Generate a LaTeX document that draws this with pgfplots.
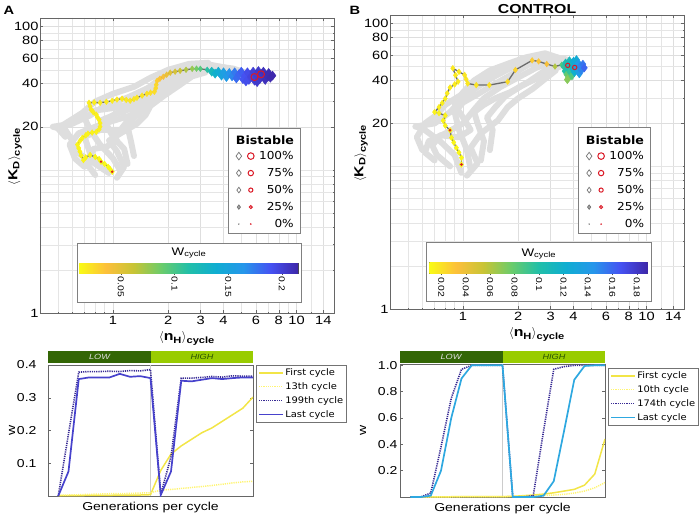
\documentclass[border=0pt]{standalone}
\usepackage{pgfplots}
\pgfplotsset{compat=1.18}
\usepackage{pgfplotstable}
\usepackage{fontspec}
\setmainfont{Liberation Sans}[FakeStretch=1.22]
\newfontfamily\dejavu{DejaVu Sans}[FakeStretch=1.1]

\definecolor{gbg}{rgb}{0.87,0.87,0.87}
\definecolor{pathgray}{rgb}{0.42,0.42,0.42}
\definecolor{bred}{rgb}{0.86,0.10,0.15}
\definecolor{lastA}{rgb}{0.28,0.26,0.80}
\definecolor{indigo}{rgb}{0.22,0.17,0.58}
\definecolor{yel}{rgb}{0.95,0.90,0.28}
\definecolor{paleyel}{rgb}{1.0,0.96,0.45}
\definecolor{lastB}{rgb}{0.18,0.66,0.88}
\definecolor{lowgreen}{rgb}{0.20,0.40,0.02}
\definecolor{highgreen}{rgb}{0.60,0.80,0.00}
\definecolor{cm0}{rgb}{0.977,0.984,0.081}
\definecolor{cm1}{rgb}{0.99,0.75,0.23}
\definecolor{cm2}{rgb}{0.78,0.77,0.21}
\definecolor{cm3}{rgb}{0.42,0.80,0.42}
\definecolor{cm4}{rgb}{0.13,0.75,0.66}
\definecolor{cm5}{rgb}{0.06,0.68,0.82}
\definecolor{cm6}{rgb}{0.15,0.59,0.92}
\definecolor{cm7}{rgb}{0.27,0.32,0.95}
\definecolor{cm8}{rgb}{0.24,0.15,0.66}
\pgfdeclarehorizontalshading{rparulashade}{100bp}{color(0bp)=(cm0); color(25bp)=(cm0); color(31.25bp)=(cm1); color(37.5bp)=(cm2); color(43.75bp)=(cm3); color(50bp)=(cm4); color(56.25bp)=(cm5); color(62.5bp)=(cm6); color(68.75bp)=(cm7); color(75bp)=(cm8); color(100bp)=(cm8)}

\pgfplotstableread{
x y w
0.99 9.7 0.012
0.96 10.2 0.012
0.94 10.5 0.012
0.90 11.0 0.012
0.86 11.4 0.013
0.84 11.9 0.013
0.80 12.3 0.013
0.75 12.7 0.013
0.71 12.2 0.014
0.69 11.7 0.014
0.67 12.6 0.014
0.66 13.4 0.014
0.65 14.2 0.014
0.64 15.0 0.014
0.66 15.9 0.015
0.68 16.7 0.015
0.71 17.4 0.015
0.73 17.9 0.015
0.77 18.2 0.015
0.81 18.4 0.015
0.84 19.2 0.016
0.85 20.0 0.016
0.85 21.2 0.016
0.84 22.4 0.016
0.82 23.4 0.016
0.81 24.3 0.016
0.78 25.3 0.017
0.76 26.3 0.017
0.75 27.8 0.017
0.74 29.4 0.017
0.79 29.6 0.017
0.85 29.4 0.018
0.92 29.9 0.018
0.99 30.4 0.018
1.05 31.0 0.019
1.12 31.4 0.019
1.18 30.8 0.019
1.24 30.4 0.020
1.30 31.2 0.020
1.35 31.9 0.020
1.44 33.0 0.021
1.53 34.0 0.022
1.60 34.6 0.023
1.68 35.1 0.024
1.71 37.2 0.025
1.72 39.3 0.026
1.74 41.9 0.030
1.80 43.3 0.035
1.88 44.7 0.040
1.96 46.2 0.045
2.05 47.7 0.050
2.18 48.5 0.055
2.32 49.2 0.060
2.50 50.0 0.068
2.70 50.8 0.075
2.85 50.9 0.085
2.99 50.8 0.095
3.26 50.0 0.110
3.52 48.4 0.130
3.94 46.9 0.150
4.36 46.1 0.165
4.82 45.4 0.180
5.33 44.7 0.190
5.89 44.7 0.200
6.52 44.7 0.205
7.03 44.0 0.210
}\pathA

\pgfplotstableread{
x y w
3.45 48.5 0.125
3.6 47.0 0.135
3.75 48.5 0.140
3.9 45.5 0.150
4.0 48.0 0.155
4.15 44.5 0.160
4.3 47.5 0.165
4.45 45.0 0.170
4.6 48.0 0.175
4.7 43.5 0.180
4.85 46.5 0.182
5.0 48.5 0.185
5.1 43.0 0.188
5.25 45.5 0.190
5.4 48.0 0.193
5.5 42.5 0.195
5.65 45.0 0.197
5.8 48.5 0.200
5.9 42.0 0.200
6.05 46.0 0.202
6.2 49.0 0.204
6.3 43.0 0.205
6.45 46.5 0.206
6.6 48.5 0.208
6.75 42.5 0.209
6.9 45.5 0.211
7.05 47.5 0.212
7.2 44.0 0.213
7.4 45.5 0.214
6.1 41.0 0.203
5.3 41.5 0.192
}\clusterA

\pgfplotstableread{
x y w
0.98 10.3 0.011
0.98 11.5 0.011
0.95 12.5 0.012
0.92 13.5 0.012
0.89 14.7 0.012
0.865 15.9 0.012
0.85 17.9 0.013
0.80 19.3 0.013
0.78 20.9 0.013
0.80 22.7 0.014
0.74 23.6 0.014
0.70 24.0 0.014
0.74 26.0 0.015
0.77 27.8 0.015
0.80 29.8 0.015
0.82 32.5 0.016
0.85 35.7 0.016
0.90 37.5 0.016
0.94 39.2 0.016
0.91 43.5 0.017
0.88 48.7 0.017
0.95 46.0 0.017
1.02 43.7 0.018
1.04 40.8 0.018
1.06 38.1 0.018
1.18 37.1 0.019
1.39 37.1 0.020
1.75 39.2 0.022
1.93 47.4 0.025
2.38 55.3 0.028
2.58 54.4 0.030
2.86 52.1 0.035
3.17 50.1 0.060
3.45 51.5 0.085
}\pathB

\pgfplotstableread{
x y w
3.55 50.0 0.095
3.60 46.5 0.100
3.62 53.0 0.105
3.68 44.0 0.080
3.72 49.0 0.105
3.75 41.5 0.075
3.80 55.0 0.110
3.82 46.0 0.095
3.88 51.5 0.115
3.92 43.0 0.085
3.97 48.0 0.120
4.00 54.5 0.125
4.05 45.5 0.120
4.10 51.0 0.130
4.15 56.0 0.125
4.18 47.5 0.135
4.25 53.0 0.140
4.30 44.5 0.140
4.35 50.0 0.150
4.42 47.0 0.150
4.50 52.0 0.155
4.58 49.0 0.160
3.70 40.5 0.070
}\clusterB

\pgfplotsset{
 /pgf/number format/assume math mode=true,
 colormap={rparula}{rgb=(0.977,0.984,0.081) rgb=(0.99,0.75,0.23) rgb=(0.78,0.77,0.21) rgb=(0.42,0.80,0.42) rgb=(0.13,0.75,0.66) rgb=(0.06,0.68,0.82) rgb=(0.15,0.59,0.92) rgb=(0.27,0.32,0.95) rgb=(0.24,0.15,0.66)},
 gray traj/.style={gbg, line width=6pt, line join=round, line cap=round, forget plot},
 main traj/.style={pathgray, line width=1.3pt, forget plot, mark=diamond*, mark size=2.8pt,
   scatter, point meta=explicit, scatter/use mapped color={draw=mapped color, fill=mapped color},
   mark options={line width=0.5pt, solid}},
 cluster traj/.style={only marks, forget plot, mark=diamond*, mark size=4.5pt,
   scatter, point meta=explicit, scatter/use mapped color={draw=mapped color, fill=mapped color},
   mark options={line width=0.5pt}},
 topdeco/.style={
  scale only axis, width=294pt,
  grid=both,
  major grid style={draw=black!13, line width=0.4pt},
  minor grid style={draw=black!10, line width=0.3pt},
  axis line style={draw=black!60, line width=0.6pt},
  tick style={draw=black!60, line width=0.4pt},
  major tick length=3pt, minor tick length=1.5pt,
  tick label style={font=\fontsize{12}{12}\selectfont},
  yticklabel style={xshift=2pt},
  xlabel={$\langle$n\textsubscript{H}$\rangle$\textsubscript{cycle}},
  ylabel={$\langle$K\textsubscript{D}$\rangle$\textsubscript{cycle}},
  label style={font=\bfseries\fontsize{13}{13}\selectfont},
  colormap name=rparula,
 },
 cbarstyle/.style={
  scale only axis, ymin=0, ymax=1,
  ytick=\empty, xtick pos=left, tick align=outside,
  major tick length=2pt, tick style={draw=black!70, line width=0.4pt},
  axis line style={draw=black!70, line width=0.5pt},
  xticklabel style={rotate=-90, anchor=west, font=\fontsize{8.5}{8.5}\selectfont, inner sep=1.5pt},
 },
 botpanel/.style={
  scale only axis, width=205pt,
  xmin=0, xmax=40, ymin=0,
  xtick=\empty,
  axis line style={draw=black!60, line width=0.6pt},
  tick style={draw=black!60, line width=0.4pt}, major tick length=3pt,
  tick label style={font=\fontsize{11.5}{12}\selectfont},
  yticklabel style={/pgf/number format/fixed, /pgf/number format/fixed zerofill, /pgf/number format/precision=1},
  xlabel={Generations per cycle},
  label style={font=\fontsize{11.5}{12}\selectfont},
  xlabel style={yshift=-3pt},
  legend style={anchor=north west, draw=black!55, fill=white,
    font=\dejavu\fontsize{9}{9}\selectfont, row sep=2.5pt, inner sep=2pt, nodes={inner sep=1.5pt}},
  legend cell align=left,
  legend image code/.code={\draw[#1] (0pt,0pt) -- (24pt,0pt);},
 },
}

\newcommand{\symdia}[3]{\tikz[baseline=-0.5ex]\draw[black!55, line width=0.7pt, fill=#3] (0pt,#1pt)--(#2pt,0pt)--(0pt,-#1pt)--(-#2pt,0pt)--cycle;}
\newcommand{\symring}[1]{\tikz[baseline=-0.5ex]\draw[bred, line width=1pt] (0pt,0pt) circle (#1pt);}
\newcommand{\bistabletab}{%
  \begin{tabular}{@{}c@{\hspace{5pt}}c@{\hspace{4.5pt}}r@{}}
  \symdia{3.8}{2.8}{white} & \symring{3.3} & 100\%\\
  \symdia{3.3}{2.4}{white} & \symring{2.7} & 75\%\\
  \symdia{2.8}{2.0}{white} & \symring{2.1} & 50\%\\
  \symdia{2.2}{1.6}{black!35} & \symring{1.5} & 25\%\\
  \tikz[baseline=-0.5ex]\fill[black!55] (0pt,0pt) circle (0.8pt); & \tikz[baseline=-0.5ex]\fill[bred] (0pt,0pt) circle (0.9pt); & 0\%
  \end{tabular}}

\begin{document}
\begin{tikzpicture}
\useasboundingbox (0,0) rectangle (700pt,517pt);

% ---------------- Panel A top ----------------
\begin{axis}[topdeco, xmode=log, ymode=log,
  xmin=0.4, xmax=16, ymin=1, ymax=115,
  xtick={1,2,3,4,6,8,10,14}, xticklabels={1,2,3,4,6,8,10,14},
  ytick={1,20,40,60,80,100}, yticklabels={1,20,40,60,80,100},
  minor xtick={0.4,0.5,0.6,0.7,0.8,0.9,5,7,9,12,16},
  minor ytick={2,3,4,5,6,7,8,9,10,30,50,70,90},
  ylabel style={at={([xshift=-25pt]rel axis cs:0,0.53)}, anchor=center},
  at={(40pt,204pt)}, anchor=south west, height=295pt,
  point meta min=0.011, point meta max=0.215]
\addplot[gray traj] coordinates {(0.95,9.5) (0.8,11) (0.65,13) (0.6,16) (0.55,19) (0.47,20) (0.6,21) (0.75,24) (0.9,28) (1.2,32) (1.6,38) (2,45) (2.6,52) (3.2,55) (4,52) (4.8,49)};
\addplot[gray traj] coordinates {(1.1,9.8) (1.0,12) (0.85,15) (0.75,19) (0.7,23) (0.8,26) (1.0,27) (1.4,30) (1.7,36) (2.1,44) (2.5,50) (3,53) (3.8,50) (4.5,48)};
\addplot[gray traj] coordinates {(1.2,11) (1.15,14) (1.0,17) (0.9,22) (1.05,25) (1.3,27) (1.5,33) (1.8,40) (2.3,48) (2.8,52) (3.5,53) (4.2,50)};
\addplot[gray traj] coordinates {(0.7,10.5) (0.62,12) (0.58,15) (0.65,18) (0.8,20) (1.0,22) (1.25,24) (1.45,29) (1.65,34) (1.9,39) (2.2,44) (2.7,49) (3.4,51)};
\addplot[gray traj] coordinates {(1.3,12.5) (1.25,16) (1.2,20) (1.3,23) (1.45,26) (1.6,31) (1.8,35) (2.1,40) (2.5,46) (3.1,50) (3.9,51) (5,48)};
\addplot[gray traj] coordinates {(0.9,10) (0.75,13) (0.7,17) (0.85,19) (1.1,19) (1.2,22) (1.1,26) (1.2,29) (1.55,32) (2.0,37) (2.4,43) (2.9,49) (3.6,53) (4.5,51) (5.5,47)};
\addplot[gray traj] coordinates {(0.55,17) (0.5,19.5) (0.58,22) (0.68,25) (0.8,30) (1.0,34) (1.3,38) (1.6,44) (2.0,50) (2.6,55) (3.3,56)};
\addplot[gray traj] coordinates {(1.05,8.8) (1.15,10.5) (1.05,13.5) (0.95,16) (1.1,18) (1.35,21) (1.5,24) (1.6,28) (1.9,33) (2.3,39) (2.7,45) (3.2,48)};
\addplot[gray traj] coordinates {(0.8,9.2) (0.72,11) (0.78,14) (0.92,14.5) (1.05,16) (0.95,19) (0.85,22) (1.0,24) (1.2,26.5) (1.35,30) (1.5,36) (1.75,42) (2.1,47) (2.6,51) (3.0,55)};
\addplot[main traj] table[x=x, y=y, meta=w] {\pathA};
\addplot[cluster traj] table[x=x, y=y, meta=w] {\clusterA};
\addplot[only marks, mark=*, mark size=1pt, bred, forget plot] coordinates {(0.99,9.7) (0.86,11.4)};
\addplot[only marks, mark=o, mark size=3.5pt, bred, line width=1pt, forget plot] coordinates {(5.9,44.5) (6.4,46.5)};
\end{axis}

% boxes of panel A
\draw[black!50, fill=white, line width=0.6pt] (77pt,215pt) rectangle (301pt,274pt);
\node[font=\fontsize{11}{11}\selectfont] at (189pt,264pt) {W\textsubscript{cycle}};
\draw[black!50, fill=white, line width=0.6pt] (228pt,284pt) rectangle (300pt,389pt);
\node[font=\dejavu\bfseries\fontsize{11.5}{12}\selectfont] at (265pt,377pt) {Bistable};
\node[anchor=north west, inner sep=0pt, font=\dejavu\fontsize{11}{17}\selectfont] at (235.5pt,370pt) {\bistabletab};

% colour bar A
\begin{axis}[cbarstyle, xmin=0.011, xmax=0.215, at={(79pt,244pt)}, anchor=south west, width=219pt, height=10pt,
  xtick={0.05,0.1,0.15,0.2}, xticklabels={0.05,0.1,0.15,0.2}]
\fill[shading=rparulashade] (rel axis cs:0,0) rectangle (rel axis cs:1,1);
\end{axis}

% ---------------- Panel B top ----------------
\begin{axis}[topdeco, xmode=log, ymode=log,
  xmin=0.4, xmax=16, ymin=1, ymax=115,
  xtick={1,2,3,4,6,8,10,14}, xticklabels={1,2,3,4,6,8,10,14},
  ytick={1,20,40,60,80,100}, yticklabels={1,20,40,60,80,100},
  minor xtick={0.4,0.5,0.6,0.7,0.8,0.9,5,7,9,12,16},
  minor ytick={2,3,4,5,6,7,8,9,10,30,50,70,90},
  ylabel style={at={([xshift=-29pt]rel axis cs:0,0.53)}, anchor=center},
  at={(390pt,208pt)}, anchor=south west, height=294pt,
  point meta min=0.0102, point meta max=0.189]
\addplot[gray traj] coordinates {(0.98,9) (0.9,12) (0.75,15) (0.6,18.5) (0.55,19) (0.7,20) (0.85,24) (1.0,30) (1.2,36) (1.5,43) (2.0,52) (2.6,60) (3.2,58) (3.8,53)};
\addplot[gray traj] coordinates {(1.1,9.5) (1.05,13) (0.95,18) (0.9,24) (1.0,28) (1.2,32) (1.5,38) (1.9,45) (2.3,52) (2.9,56) (3.6,54)};
\addplot[gray traj] coordinates {(0.7,11) (0.62,12.5) (0.65,15) (0.8,17) (1.0,20) (1.15,25) (1.3,30) (1.6,36) (2.0,42) (2.5,49) (3.1,54) (3.9,52)};
\addplot[gray traj] coordinates {(1.25,11) (1.3,15) (1.2,20) (1.15,24) (1.3,27) (1.5,30) (1.8,33) (2.2,38) (2.6,44) (3.0,50) (3.6,52)};
\addplot[gray traj] coordinates {(0.85,10) (0.72,12) (0.68,14) (0.75,16.5) (0.95,16) (1.1,18) (1.0,22) (0.9,27) (1.0,33) (1.15,40) (1.4,47) (1.8,53) (2.2,58) (2.8,62) (3.4,57) (4.2,52)};
\addplot[gray traj] coordinates {(1.4,13) (1.45,18) (1.35,22) (1.5,26) (1.7,31) (2.1,37) (2.5,41) (2.9,47) (3.4,50)};
\addplot[gray traj] coordinates {(0.6,13) (0.56,16) (0.62,20) (0.72,23) (0.8,27) (0.95,31) (1.1,35) (1.3,41) (1.7,48) (2.2,55) (3.0,59) (3.7,56)};
\addplot[gray traj] coordinates {(1.05,8.6) (1.2,10.5) (1.1,13.5) (1.25,17) (1.55,21) (1.75,26) (2.0,30) (2.4,35) (2.8,41) (3.2,47)};
\addplot[main traj] table[x=x, y=y, meta=w] {\pathB};
\addplot[cluster traj, mark size=4pt] table[x=x, y=y, meta=w] {\clusterB};
\addplot[only marks, mark=*, mark size=1.1pt, bred, forget plot] coordinates {(0.98,10.3) (0.85,17.9)};
\addplot[only marks, mark=o, mark size=2.2pt, bred, line width=1pt, forget plot] coordinates {(3.72,51) (4.06,49.3)};
\end{axis}

% boxes of panel B
\draw[black!50, fill=white, line width=0.6pt] (426.7pt,215.3pt) rectangle (651pt,274.3pt);
\node[font=\fontsize{11}{11}\selectfont] at (538.8pt,263pt) {W\textsubscript{cycle}};
\draw[black!50, fill=white, line width=0.6pt] (578.3pt,283.7pt) rectangle (650pt,389.3pt);
\node[font=\dejavu\bfseries\fontsize{11.5}{12}\selectfont] at (615pt,377pt) {Bistable};
\node[anchor=north west, inner sep=0pt, font=\dejavu\fontsize{11}{17}\selectfont] at (585.8pt,370pt) {\bistabletab};

% colour bar B
\begin{axis}[cbarstyle, xmin=0.0102, xmax=0.189, at={(429.3pt,243.7pt)}, anchor=south west, width=218.4pt, height=10.6pt,
  xtick={0.02,0.04,0.06,0.08,0.1,0.12,0.14,0.16,0.18}, xticklabels={0.02,0.04,0.06,0.08,0.1,0.12,0.14,0.16,0.18}]
\fill[shading=rparulashade] (rel axis cs:0,0) rectangle (rel axis cs:1,1);
\end{axis}

% ---------------- Panel A bottom ----------------
\begin{axis}[botpanel, at={(48pt,21pt)}, anchor=south west, height=131pt,
  ymax=0.4, ytick={0.1,0.2,0.3,0.4}, yticklabel style={xshift=-8pt},
  legend style={at={(1.0146,1)}}]
\addplot[black!20, line width=0.4pt, forget plot] coordinates {(20,0) (20,0.4)};
\addplot[yel, line width=1.5pt] coordinates {(2,0.001) (4,0.001) (6,0.001) (8,0.002) (10,0.002) (12,0.002) (14,0.003) (16,0.003) (18,0.003) (20,0.004) (22,0.078) (24,0.128) (26,0.153) (28,0.173) (30,0.193) (32,0.208) (34,0.228) (36,0.248) (38,0.268) (40,0.302)};
\addlegendentry{First cycle}
\addplot[paleyel, line width=1.5pt, dash pattern=on 1.2pt off 1pt] coordinates {(2,0.002) (4,0.003) (6,0.004) (8,0.005) (10,0.006) (12,0.007) (14,0.007) (16,0.008) (18,0.009) (20,0.010) (22,0.018) (24,0.020) (26,0.023) (28,0.026) (30,0.029) (32,0.032) (34,0.036) (36,0.040) (38,0.043) (40,0.045)};
\addlegendentry{13th cycle}
\addplot[indigo, line width=1.6pt, dash pattern=on 1.2pt off 1pt] coordinates {(2,0) (4,0.19) (6,0.378) (8,0.38) (10,0.38) (12,0.381) (14,0.38) (16,0.383) (18,0.382) (20,0.386) (22,0.005) (24,0.12) (26,0.36) (28,0.36) (30,0.362) (32,0.365) (34,0.363) (36,0.367) (38,0.366) (40,0.366)};
\addlegendentry{199th cycle}
\addplot[lastA, line width=1.7pt] coordinates {(2,0) (4,0.075) (6,0.357) (8,0.362) (10,0.362) (12,0.362) (14,0.373) (16,0.364) (18,0.366) (20,0.36) (22,0.003) (24,0.075) (26,0.352) (28,0.35) (30,0.355) (32,0.36) (34,0.357) (36,0.36) (38,0.362) (40,0.362)};
\addlegendentry{Last cycle}
\end{axis}

% ---------------- Panel B bottom ----------------
\begin{axis}[botpanel, at={(400pt,20pt)}, anchor=south west, height=133pt,
  ymax=1.01, ytick={0.2,0.4,0.6,0.8,1.0}, yticklabel style={xshift=1pt},
  legend style={at={(1.0146,0.970)}}]
\addplot[black!20, line width=0.4pt, forget plot] coordinates {(20,0) (20,1.01)};
\addplot[yel, line width=1.5pt] coordinates {(2,0.001) (4,0.001) (6,0.001) (8,0.001) (10,0.002) (12,0.002) (14,0.002) (16,0.003) (18,0.003) (20,0.003) (22,0.005) (24,0.01) (26,0.015) (28,0.022) (30,0.032) (32,0.045) (34,0.058) (36,0.09) (38,0.174) (40,0.44)};
\addlegendentry{First cycle}
\addplot[paleyel, line width=1.5pt, dash pattern=on 1.2pt off 1pt] coordinates {(2,0.001) (4,0.001) (6,0.001) (8,0.001) (10,0.001) (12,0.002) (14,0.002) (16,0.002) (18,0.002) (20,0.003) (22,0.004) (24,0.006) (26,0.008) (28,0.011) (30,0.015) (32,0.02) (34,0.03) (36,0.045) (38,0.07) (40,0.11)};
\addlegendentry{10th cycle}
\addplot[indigo, line width=1.6pt, dash pattern=on 1.2pt off 1pt] coordinates {(2,0) (4,0) (6,0.03) (8,0.38) (10,0.75) (12,0.97) (14,1.0) (16,1.0) (18,1.0) (20,1.0) (22,0) (24,0) (26,0.01) (28,0.5) (30,0.97) (32,0.99) (34,1.0) (36,1.0) (38,1.0) (40,1.0)};
\addlegendentry{174th cycle}
\addplot[lastB, line width=1.7pt] coordinates {(2,0) (4,0) (6,0.01) (8,0.2) (10,0.6) (12,0.9) (14,1.0) (16,1.0) (18,1.0) (20,1.0) (22,0) (24,0) (26,0) (28,0.01) (30,0.12) (32,0.5) (34,0.89) (36,0.995) (38,1.0) (40,1.0)};
\addlegendentry{Last cycle}
\end{axis}

% y labels of the lower panels
\node[rotate=90, font=\fontsize{11.5}{12}\selectfont] at (12pt,86.5pt) {w};
\node[rotate=90, font=\fontsize{11.5}{12}\selectfont] at (363pt,86.5pt) {w};

% ---------------- LOW / HIGH bars ----------------
\fill[lowgreen] (48pt,153.7pt) rectangle (150.5pt,166.3pt);
\fill[highgreen] (150.5pt,153.7pt) rectangle (253pt,166.3pt);
\node[font=\itshape\fontsize{7.5}{8}\selectfont, text=black!12] at (99.5pt,160pt) {LOW};
\node[font=\itshape\fontsize{7.5}{8}\selectfont, text=lowgreen!80!black] at (202pt,160pt) {HIGH};
\fill[lowgreen] (400pt,153.7pt) rectangle (502.5pt,166.3pt);
\fill[highgreen] (502.5pt,153.7pt) rectangle (605pt,166.3pt);
\node[font=\itshape\fontsize{7.5}{8}\selectfont, text=black!12] at (451pt,160pt) {LOW};
\node[font=\itshape\fontsize{7.5}{8}\selectfont, text=lowgreen!80!black] at (554pt,160pt) {HIGH};

% ---------------- panel letters / title ----------------
\node[font=\bfseries\fontsize{12}{12}\selectfont] at (9pt,507pt) {A};
\node[font=\bfseries\fontsize{12}{12}\selectfont] at (355pt,507pt) {B};
\node[font=\bfseries\fontsize{13}{13}\selectfont] at (537pt,507.5pt) {CONTROL};
\end{tikzpicture}
\end{document}
